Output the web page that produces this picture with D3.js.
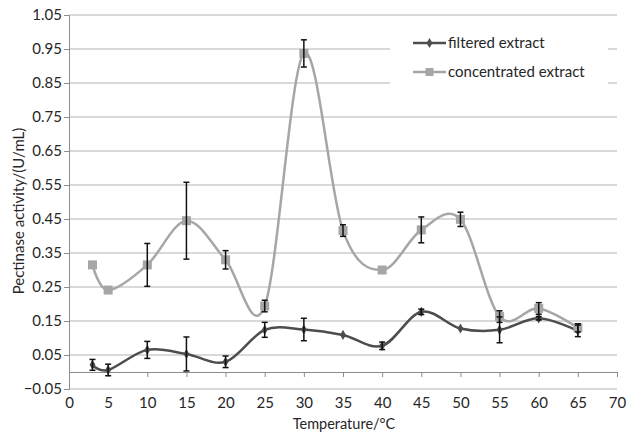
<!DOCTYPE html>
<html>
<head>
<meta charset="utf-8">
<script src="https://cdn.jsdelivr.net/npm/d3@7/dist/d3.min.js"></script>
<style>
  html, body { margin: 0; padding: 0; background: #ffffff; }
  svg { display: block; font-family: Lato, "Open Sans", sans-serif; }
</style>
</head>
<body>
<svg id="chart" width="633" height="433"></svg>
<script>
// ---- data ----
const temperatures = [3, 5, 10, 15, 20, 25, 30, 35, 40, 45, 50, 55, 60, 65];
const filteredValues = [0.021, 0.006, 0.065, 0.053, 0.030, 0.124, 0.125, 0.109, 0.077, 0.177, 0.128, 0.124, 0.158, 0.121];
const filteredErrors = [0.016, 0.017, 0.025, 0.050, 0.017, 0.022, 0.033, 0.000, 0.011, 0.008, 0.000, 0.038, 0.005, 0.017];
const concentratedValues = [0.315, 0.241, 0.315, 0.445, 0.330, 0.194, 0.937, 0.416, 0.300, 0.418, 0.449, 0.163, 0.187, 0.130];
const concentratedErrors = [0.000, 0.000, 0.063, 0.113, 0.027, 0.017, 0.040, 0.017, 0.000, 0.038, 0.021, 0.017, 0.017, 0.012];
const yTicks = [-0.05, 0.05, 0.15, 0.25, 0.35, 0.45, 0.55, 0.65, 0.75, 0.85, 0.95, 1.05];
const xTicks = [0, 5, 10, 15, 20, 25, 30, 35, 40, 45, 50, 55, 60, 65, 70];
const seriesNames = ["filtered extract", "concentrated extract"];

const svg = d3.select("#chart");
const plotLeft = 69, plotRight = 617, plotTop = 15, plotBottom = 389;
const textColor = "#262626";

const x = d3.scaleLinear().domain([0, 70]).range([plotLeft, plotRight]);
const y = d3.scaleLinear().domain([-0.05, 1.05]).range([plotBottom, plotTop]);

// gridlines
svg.append("g").selectAll("line").data(yTicks).join("line")
  .attr("x1", plotLeft).attr("x2", plotRight)
  .attr("y1", d => y(d)).attr("y2", d => y(d))
  .attr("stroke", "#b3b3b3").attr("stroke-width", 1);

// y axis
const yAxis = d3.axisLeft(y).tickValues(yTicks).tickSize(5).tickPadding(2)
  .tickFormat(d3.format(".2f"));
const gy = svg.append("g").attr("transform", `translate(${plotLeft},0)`).call(yAxis);
gy.select(".domain").attr("stroke", "#8c8c8c");
gy.selectAll(".tick line").attr("stroke", "#8c8c8c");
gy.selectAll("text").attr("font-size", 15).attr("fill", textColor).attr("font-family", "Lato, sans-serif");

// x axis line at y=0 with ticks
const xAxisLine = d3.axisBottom(x).tickValues(xTicks).tickSize(5).tickFormat("");
const gx = svg.append("g").attr("transform", `translate(0,${y(0)})`).call(xAxisLine);
gx.select(".domain").attr("stroke", "#8c8c8c");
gx.selectAll(".tick line").attr("stroke", "#8c8c8c");

// x tick labels at bottom
const xLabels = d3.axisBottom(x).tickValues(xTicks).tickSize(0).tickPadding(8).tickFormat(d3.format("d"));
const gxl = svg.append("g").attr("transform", `translate(0,${plotBottom})`).call(xLabels);
gxl.select(".domain").remove();
gxl.selectAll("text").attr("font-size", 15).attr("fill", textColor).attr("font-family", "Lato, sans-serif");

// axis titles
svg.append("text").attr("x", 344).attr("y", 428.5)
  .attr("text-anchor", "middle").attr("font-size", 14.5).attr("fill", textColor)
  .text("Temperature/°C");
svg.append("text").attr("transform", `translate(24,211) rotate(-90)`)
  .attr("text-anchor", "middle").attr("font-size", 15).attr("fill", textColor)
  .text("Pectinase activity/(U/mL)");

// legend background (hides gridlines)
const legend = svg.append("g");
legend.append("rect").attr("x", 390).attr("y", 33).attr("width", 218).attr("height", 60).attr("fill", "#ffffff");

const curve = d3.curveCardinal.tension(0);
const line = d3.line().x(d => x(d[0])).y(d => y(d[1])).curve(curve);

const filtered = temperatures.map((t, i) => [t, filteredValues[i], filteredErrors[i]]);
const concentrated = temperatures.map((t, i) => [t, concentratedValues[i], concentratedErrors[i]]);

function drawSeries(data, color, width) {
  svg.append("path").datum(data).attr("d", line)
    .attr("fill", "none").attr("stroke", color).attr("stroke-width", width);
}
function drawErrors(data) {
  const g = svg.append("g").attr("stroke", "#111").attr("stroke-width", 1.5);
  data.filter(d => d[2] > 0).forEach(d => {
    const cx = x(d[0]);
    g.append("line").attr("x1", cx).attr("x2", cx).attr("y1", y(d[1] + d[2])).attr("y2", y(d[1] - d[2]));
    g.append("line").attr("x1", cx - 3).attr("x2", cx + 3).attr("y1", y(d[1] + d[2])).attr("y2", y(d[1] + d[2]));
    g.append("line").attr("x1", cx - 3).attr("x2", cx + 3).attr("y1", y(d[1] - d[2])).attr("y2", y(d[1] - d[2]));
  });
}

drawSeries(concentrated, "#a6a6a6", 2.5);
drawSeries(filtered, "#4d4d4d", 2.5);

// markers
const diamond = d3.symbol().type(d3.symbolDiamond).size(30);
svg.append("g").selectAll("path").data(filtered).join("path")
  .attr("d", diamond).attr("transform", d => `translate(${x(d[0])},${y(d[1])})`)
  .attr("fill", "#4d4d4d");
svg.append("g").selectAll("rect").data(concentrated).join("rect")
  .attr("x", d => x(d[0]) - 4.5).attr("y", d => y(d[1]) - 4.5)
  .attr("width", 9).attr("height", 9).attr("fill", "#a6a6a6");

drawErrors(filtered);
drawErrors(concentrated);

// legend entries
const legendRows = [
  { name: seriesNames[0], color: "#4d4d4d", marker: "diamond", yy: 43 },
  { name: seriesNames[1], color: "#a6a6a6", marker: "square", yy: 72 }
];
legendRows.forEach(r => {
  legend.append("line").attr("x1", 413).attr("x2", 446).attr("y1", r.yy).attr("y2", r.yy)
    .attr("stroke", r.color).attr("stroke-width", 2.5);
  if (r.marker === "diamond") {
    legend.append("path").attr("d", diamond).attr("transform", `translate(429.5,${r.yy})`).attr("fill", r.color);
  } else {
    legend.append("rect").attr("x", 425.5).attr("y", r.yy - 4).attr("width", 8).attr("height", 8).attr("fill", r.color);
  }
  legend.append("text").attr("x", 448).attr("y", r.yy + 5).attr("font-size", 15).attr("fill", textColor).text(r.name);
});
</script>
</body>
</html>
